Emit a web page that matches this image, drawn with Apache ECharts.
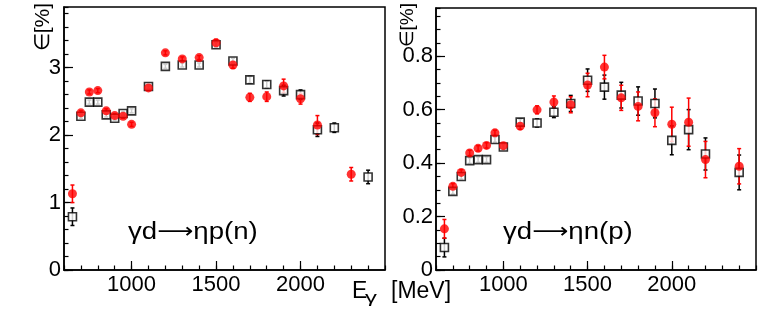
<!DOCTYPE html>
<html>
<head>
<meta charset="utf-8">
<script src="https://cdn.jsdelivr.net/npm/echarts@6/dist/echarts.min.js"></script>
<style>
html,body{margin:0;padding:0;background:#fff;}
#chart{width:771px;height:314px;}
</style>
</head>
<body>
<div id="chart"></div>
<script>
// ---------- DATA ----------
// Left panel: gamma d -> eta p (n)
const pBlackE   = [650, 700, 750, 800, 850, 900, 950, 1000, 1100, 1200, 1300, 1400, 1500, 1600, 1700, 1800, 1900, 2000, 2100, 2200, 2400];
const pBlackV   = [0.79, 2.28, 2.49, 2.49, 2.30, 2.25, 2.32, 2.36, 2.72, 3.02, 3.04, 3.04, 3.34, 3.10, 2.82, 2.75, 2.66, 2.60, 2.08, 2.11, 1.38];
const pBlackErr = [0.13, 0.03, 0.03, 0.03, 0.03, 0.03, 0.03, 0.03, 0.03, 0.03, 0.03, 0.03, 0.04, 0.04, 0.05, 0.05, 0.08, 0.07, 0.10, 0.07, 0.10];

const pRedE   = [650, 700, 750, 800, 850, 900, 950, 1000, 1100, 1200, 1300, 1400, 1500, 1600, 1700, 1800, 1900, 2000, 2100, 2300];
const pRedV   = [1.13, 2.33, 2.64, 2.66, 2.36, 2.29, 2.28, 2.16, 2.70, 3.22, 3.13, 3.15, 3.37, 3.04, 2.56, 2.57, 2.73, 2.54, 2.15, 1.42];
const pRedErr = [0.13, 0.03, 0.03, 0.03, 0.03, 0.03, 0.03, 0.03, 0.03, 0.03, 0.03, 0.03, 0.05, 0.05, 0.06, 0.07, 0.10, 0.08, 0.14, 0.10];

// Right panel: gamma d -> eta n (p)
const nBlackE   = [650, 700, 750, 800, 850, 900, 950, 1000, 1100, 1200, 1300, 1400, 1500, 1600, 1700, 1800, 1900, 2000, 2100, 2200, 2400];
const nBlackV   = [0.084, 0.294, 0.350, 0.409, 0.413, 0.413, 0.488, 0.460, 0.553, 0.550, 0.590, 0.623, 0.710, 0.684, 0.654, 0.632, 0.623, 0.485, 0.525, 0.434, 0.365];
const nBlackErr = [0.035, 0.010, 0.010, 0.010, 0.010, 0.010, 0.010, 0.010, 0.012, 0.015, 0.020, 0.030, 0.042, 0.045, 0.048, 0.053, 0.054, 0.054, 0.075, 0.060, 0.065];

const nRedE   = [650, 700, 750, 800, 850, 900, 950, 1000, 1100, 1200, 1300, 1400, 1500, 1600, 1700, 1800, 1900, 2000, 2100, 2200, 2400];
const nRedV   = [0.154, 0.313, 0.365, 0.438, 0.455, 0.466, 0.513, 0.465, 0.538, 0.599, 0.628, 0.618, 0.692, 0.759, 0.644, 0.612, 0.588, 0.545, 0.553, 0.413, 0.388];
const nRedErr = [0.035, 0.010, 0.010, 0.010, 0.010, 0.010, 0.010, 0.010, 0.012, 0.015, 0.023, 0.030, 0.044, 0.044, 0.047, 0.054, 0.052, 0.064, 0.090, 0.068, 0.066];

// Axis tick labels
const xMajorTicks = [1000, 1500, 2000];
const yLeftMajorTicks = [0, 1, 2, 3];
const yRightMajorTicks = [0, 0.2, 0.4, 0.6, 0.8];

// Texts
const yTitle = '∈[%]';
const leftReaction = ['γd', '⟶', 'ηp(n)'];
const rightReaction = ['γd', '⟶', 'ηn(p)'];

// ---------- CHART ----------
const FONT = "'Liberation Sans', Arial, Helvetica, sans-serif";
const chart = echarts.init(document.getElementById('chart'), null, {renderer: 'canvas'});

function pts(E, V, Err) { return E.map((e, i) => [e, V[i], Err[i]]); }

function errSeries(name, data, xi, color) {
  return {
    name: name, type: 'custom', xAxisIndex: xi, yAxisIndex: xi,
    data: data, silent: true,
    renderItem: function (params, api) {
      const x = api.value(0), y = api.value(1), e = api.value(2);
      const top = api.coord([x, y + e]);
      const bot = api.coord([x, y - e]);
      const cap = 2;
      const st = {stroke: color, lineWidth: 1.5};
      return {
        type: 'group',
        children: [
          {type: 'line', shape: {x1: top[0], y1: top[1], x2: bot[0], y2: bot[1]}, style: st},
          {type: 'line', shape: {x1: top[0] - cap, y1: top[1], x2: top[0] + cap, y2: top[1]}, style: st},
          {type: 'line', shape: {x1: bot[0] - cap, y1: bot[1], x2: bot[0] + cap, y2: bot[1]}, style: st}
        ]
      };
    }
  };
}

function blackMarkers(data, xi) {
  return {
    type: 'scatter', xAxisIndex: xi, yAxisIndex: xi, data: data,
    symbol: 'rect', symbolSize: 8, silent: true,
    itemStyle: {color: '#fff', borderColor: '#000', borderWidth: 1.6}
  };
}
function redMarkers(data, xi) {
  return {
    type: 'scatter', xAxisIndex: xi, yAxisIndex: xi, data: data,
    symbol: 'circle', symbolSize: 9, silent: true,
    itemStyle: {color: '#ff0000'}
  };
}

function xAxes(gi) {
  return [
    {
      gridIndex: gi, type: 'value', min: 600, max: 2500, interval: 100, position: 'bottom',
      axisLine: {show: true, onZero: false, lineStyle: {color: '#000', width: 1.5}},
      axisTick: {show: true, inside: true, length: 4.5, lineStyle: {color: '#000', width: 1.2}},
      axisLabel: {
        show: true, margin: 4, color: '#000', fontSize: 22, fontFamily: FONT,
        formatter: function (v) { return xMajorTicks.indexOf(Math.round(v)) >= 0 ? String(Math.round(v)) : ''; }
      },
      splitLine: {show: false}
    },
    {
      gridIndex: gi, type: 'value', min: 600, max: 2500, position: 'bottom',
      axisLine: {show: false},
      axisTick: {show: true, inside: true, length: 9, customValues: xMajorTicks, lineStyle: {color: '#000', width: 1.2}},
      axisLabel: {show: false},
      splitLine: {show: false}
    }
  ];
}

function yAxes(gi, max, interval, majors, fmt) {
  return [
    {
      gridIndex: gi, type: 'value', min: 0, max: max, interval: interval, position: 'left',
      axisLine: {show: true, onZero: false, lineStyle: {color: '#000', width: 1.5}},
      axisTick: {show: true, inside: true, length: 4.5, lineStyle: {color: '#000', width: 1.2}},
      axisLabel: {
        show: true, margin: 3, color: '#000', fontSize: 22, fontFamily: FONT,
        formatter: function (v) {
          for (const m of majors) { if (Math.abs(v - m) < 1e-6) return fmt(m); }
          return '';
        }
      },
      splitLine: {show: false}
    },
    {
      gridIndex: gi, type: 'value', min: 0, max: max, position: 'left',
      axisLine: {show: false},
      axisTick: {show: true, inside: true, length: 9, customValues: majors, lineStyle: {color: '#000', width: 1.2}},
      axisLabel: {show: false},
      splitLine: {show: false}
    }
  ];
}

const xa = xAxes(0).concat(xAxes(1));
const ya = yAxes(0, 3.9, 0.2, yLeftMajorTicks, m => String(m))
  .concat(yAxes(1, 0.98, 0.05, yRightMajorTicks, m => (m === 0 ? '0' : m.toFixed(1))));

const reactionRich = {
  t: {fontSize: 23, fontFamily: FONT, fill: '#000'},
  a: {fontSize: 21, fontFamily: "'DejaVu Sans', sans-serif", fill: '#000'}
};
function reactionText(parts) { return '{t|' + parts[0] + '}{a|' + parts[1] + '}{t|' + parts[2] + '}'; }

const option = {
  animation: false,
  backgroundColor: '#fff',
  grid: [
    {left: 64, top: 7, width: 321, height: 263, show: true, borderColor: '#000', borderWidth: 1.5, backgroundColor: 'transparent'},
    {left: 436, top: 8, width: 320, height: 262, show: true, borderColor: '#000', borderWidth: 1.5, backgroundColor: 'transparent'}
  ],
  xAxis: xa,
  yAxis: ya,
  series: [
    errSeries('pBlackErr', pts(pBlackE, pBlackV, pBlackErr), 0, '#000'),
    blackMarkers(pts(pBlackE, pBlackV, pBlackErr), 0),
    errSeries('pRedErr', pts(pRedE, pRedV, pRedErr), 0, '#ff0000'),
    redMarkers(pts(pRedE, pRedV, pRedErr), 0),
    errSeries('nBlackErr', pts(nBlackE, nBlackV, nBlackErr), 2, '#000'),
    blackMarkers(pts(nBlackE, nBlackV, nBlackErr), 2),
    errSeries('nRedErr', pts(nRedE, nRedV, nRedErr), 2, '#ff0000'),
    redMarkers(pts(nRedE, nRedV, nRedErr), 2)
  ],
  graphic: [
    {type: 'text', x: 54, y: 3, rotation: Math.PI / 2,
      style: {text: yTitle, fontSize: 21, fontFamily: FONT, fill: '#000', align: 'right', verticalAlign: 'bottom'}},
    {type: 'text', x: 417, y: 3, rotation: Math.PI / 2,
      style: {text: yTitle, fontSize: 19, fontFamily: FONT, fill: '#000', align: 'right', verticalAlign: 'bottom'}},
    {type: 'text', x: 128, y: 233, scaleX: 1.2,
      style: {text: reactionText(leftReaction), rich: reactionRich, align: 'left', verticalAlign: 'middle'}},
    {type: 'text', x: 503, y: 233, scaleX: 1.2,
      style: {text: reactionText(rightReaction), rich: reactionRich, align: 'left', verticalAlign: 'middle'}},
    {type: 'text', x: 352, y: 292,
      style: {text: 'E', fontSize: 23, fontFamily: FONT, fill: '#000', align: 'left', verticalAlign: 'middle'}},
    {type: 'text', x: 365, y: 298, scaleX: 1.4,
      style: {text: 'γ', fontSize: 17, fontFamily: FONT, fill: '#000', align: 'left', verticalAlign: 'middle'}},
    {type: 'text', x: 391, y: 292,
      style: {text: '[MeV]', fontSize: 23, fontFamily: FONT, fill: '#000', align: 'left', verticalAlign: 'middle'}}
  ]
};
chart.setOption(option);
</script>
</body>
</html>
